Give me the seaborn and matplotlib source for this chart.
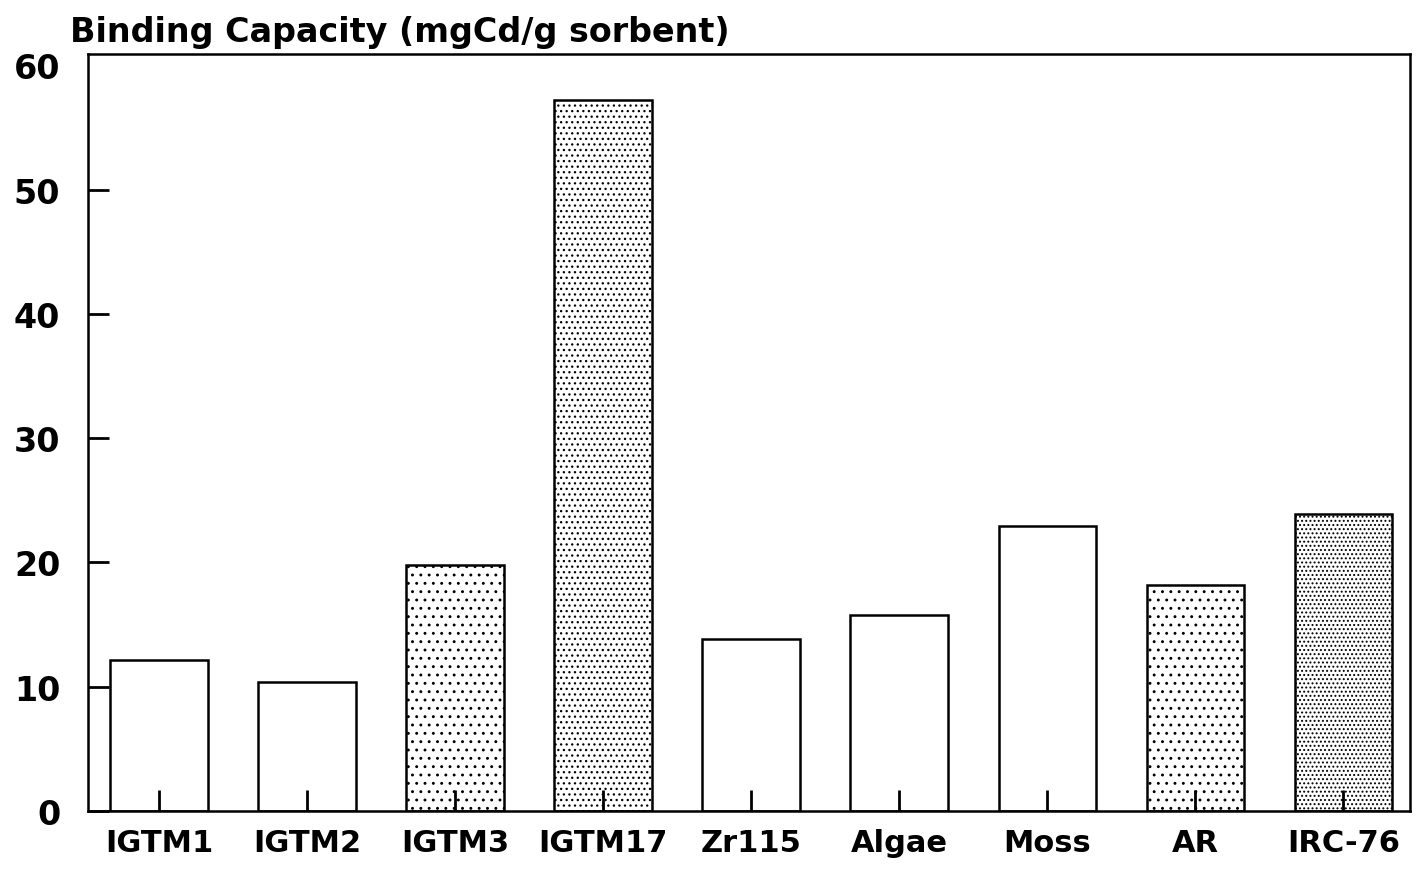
import matplotlib
matplotlib.use("Agg")
import matplotlib.pyplot as plt
import seaborn as sns
import pandas as pd

categories = ["IGTM1", "IGTM2", "IGTM3", "IGTM17", "Zr115", "Algae", "Moss", "AR", "IRC-76"]
capacity = [12.15, 10.4, 19.8, 57.2, 13.8, 15.8, 22.9, 18.2, 23.9]

hatches = ["", "", "..", "...", "", "", "", "..", "...."]

sns.set_theme(style="white")
plt.rcParams["font.family"] = ["DejaVu Sans"]
plt.rcParams["hatch.color"] = "#444444"
plt.rcParams["hatch.linewidth"] = 0.9

df = pd.DataFrame({"sorbent": categories, "capacity": capacity})

fig = plt.figure(figsize=(14.2, 8.7), dpi=100)
ax = fig.add_axes([0.062, 0.0667, 0.931, 0.870])
sns.barplot(data=df, x="sorbent", y="capacity", order=categories, color="white",
            edgecolor="black", linewidth=1.8, width=0.66, ax=ax, saturation=1)
for p, h in zip(ax.patches, hatches):
    p.set_hatch(h)
ax.set_axisbelow(False)

ax.set_xlim(-0.48, 8.45)
ax.set_ylim(0, 60.9)
ax.set_yticks([0, 10, 20, 30, 40, 50, 60])
ax.set_xlabel("")
ax.set_ylabel("")
for s in ax.spines.values():
    s.set_visible(True)
    s.set_color("black")
    s.set_linewidth(1.8)
ax.tick_params(axis="x", bottom=True, direction="in", length=15, width=2,
               color="black", pad=12, labelsize=22)
ax.tick_params(axis="y", left=True, direction="in", length=15, width=2,
               color="black", pad=20, labelsize=24)
ax.yaxis.get_major_ticks()[-1].tick1line.set_visible(False)
for lab in ax.get_xticklabels() + ax.get_yticklabels():
    lab.set_fontweight("bold")
    lab.set_color("black")

fig.text(0.049, 0.963, "Binding Capacity (mgCd/g sorbent)", fontsize=24,
         fontweight="bold", ha="left", va="center", color="black")

fig.savefig("out.png", dpi=100, facecolor="white")
